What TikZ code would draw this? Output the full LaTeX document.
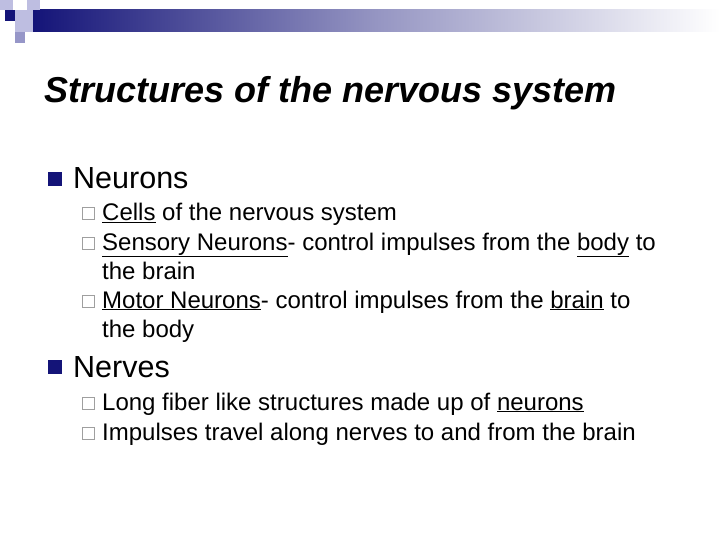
\documentclass[tikz,border=0pt]{standalone}
\usepackage{fontspec}
\setmainfont{Liberation Sans}
\begin{document}
\begin{tikzpicture}[x=1pt,y=-1pt,
 title/.style={anchor=base west,inner sep=0pt,font=\fontsize{36}{38}\selectfont\bfseries\itshape},
 lvlone/.style={anchor=base west,inner sep=0pt,font=\fontsize{30.5}{34}\selectfont},
 lvltwo/.style={anchor=base west,inner sep=0pt,font=\fontsize{24}{27}\selectfont},
 bulletone/.style={fill=navy,draw=none,minimum size=14pt,inner sep=0pt},
 bullettwo/.style={draw=gray!75,line width=1pt,fill=white,minimum size=12pt,inner sep=0pt}]
\definecolor{navy}{RGB}{20,20,120}
\definecolor{lav}{RGB}{190,190,225}
\definecolor{lav2}{RGB}{150,150,200}
\useasboundingbox (0,0) rectangle (720,540);
\fill[white] (0,0) rectangle (720,540);
\shade[left color=navy,right color=white,middle color=navy!45!white] (33,10) rectangle (720,32);
\fill[lav] (0,0) rectangle (13,10);
\fill[lav] (27,0) rectangle (40,10);
\fill[navy] (5,10) rectangle (15,21);
\fill[lav] (15,10) rectangle (33,21);
\fill[lav] (15,21) rectangle (33,32);
\fill[lav2] (15,32) rectangle (25,43);
\node[title] (t) at (44,103) {Structures of the nervous system};
\node[bulletone] (b1) at (55,179) {};
\node[lvlone] (n1) at (73,189) {Neurons};
\node[bullettwo] (s1) at (88,214) {};
\node[lvltwo] (l1) at (102,221) {\underline{Cells} of the nervous system};
\node[bullettwo] (s2) at (88,243) {};
\node[lvltwo] (l2) at (102,250) {\underline{Sensory Neurons}- control impulses from the \underline{body} to};
\node[lvltwo] (l2b) at (102,279) {the brain};
\node[bullettwo] (s3) at (88,301) {};
\node[lvltwo] (l3) at (102,308) {\underline{Motor Neurons}- control impulses from the \underline{brain} to};
\node[lvltwo] (l3b) at (102,337) {the body};
\node[bulletone] (b2) at (55,367) {};
\node[lvlone] (n2) at (73,377) {Nerves};
\node[bullettwo] (s4) at (88,403) {};
\node[lvltwo] (l4) at (102,410) {Long fiber like structures made up of \underline{neurons}};
\node[bullettwo] (s5) at (88,433) {};
\node[lvltwo] (l5) at (102,440) {Impulses travel along nerves to and from the brain};
\end{tikzpicture}
\end{document}
